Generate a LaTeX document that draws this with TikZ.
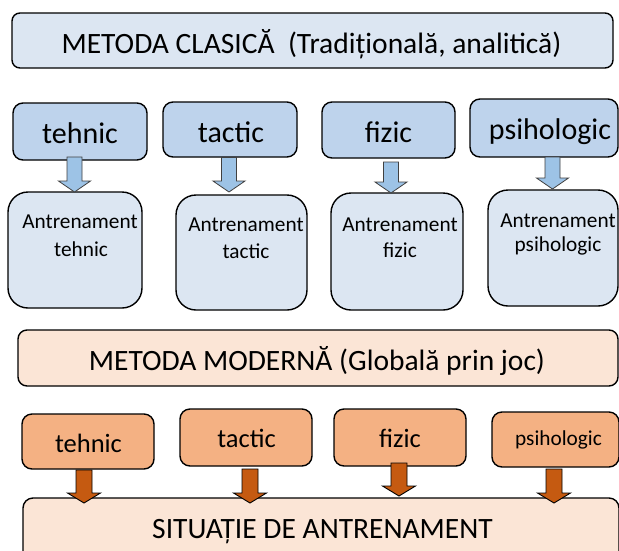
\documentclass[tikz,border=0pt]{standalone}
\usepackage{fontspec}
\setmainfont{Carlito}
\usetikzlibrary{calc}
\definecolor{topfill}{HTML}{DCE6F2}
\definecolor{bluebox}{HTML}{BED3EC}
\definecolor{bluearrow}{HTML}{9DC3E6}
\definecolor{peach}{HTML}{FBE5D6}
\definecolor{orangebox}{HTML}{F4B183}
\definecolor{orangearrow}{HTML}{C55A11}
\tikzset{
  box/.style={draw=black, line width=1.4pt, inner sep=0pt, outer sep=0pt},
  bigtext/.style={font=\fontsize{29.5}{34}\selectfont, inner sep=0pt, anchor=base},
  midtext/.style={font=\fontsize{30}{34}\selectfont, inner sep=0pt, anchor=base},
  smalltext/.style={font=\fontsize{21.3}{25}\selectfont, inner sep=0pt, anchor=base},
  otext/.style={font=\fontsize{26.5}{31}\selectfont, inner sep=0pt, anchor=base},
  barrow/.style={draw=black!75, line width=0.8pt, fill=bluearrow,
    to path={let \p1=(\tikztostart), \p2=(\tikztotarget) in
      (\x1-7.5pt,\y1) -- (\x1+7.5pt,\y1) -- (\x1+7.5pt,\y2+11pt) -- (\x1+16pt,\y2+11pt)
      -- (\x1,\y2) -- (\x1-16pt,\y2+11pt) -- (\x1-7.5pt,\y2+11pt) -- cycle}},
  oarrow/.style={draw=black, line width=0.9pt, fill=orangearrow,
    to path={let \p1=(\tikztostart), \p2=(\tikztotarget) in
      (\x1-8pt,\y1) -- (\x1+8pt,\y1) -- (\x1+8pt,\y2+10pt) -- (\x1+16.5pt,\y2+10pt)
      -- (\x1,\y2) -- (\x1-16.5pt,\y2+10pt) -- (\x1-8pt,\y2+10pt) -- cycle}},
}
\begin{document}
\begin{tikzpicture}[x=1pt,y=-1pt]
\clip (0,0) rectangle (619,550);
\fill[white] (0,0) rectangle (619,550);
% top title
\node[box, fill=topfill, rounded corners=8pt, minimum width=601pt, minimum height=55pt] (clasic) at (312.5,40.5) {};
\node[bigtext] (clasict) at (311.5,53) {METODA CLASICĂ\ \ (Tradițională, analitică)};
% blue boxes
\node[box, fill=bluebox, rounded corners=10pt, minimum width=134pt, minimum height=57pt] (bt1) at (80,131.5) {};
\node[box, fill=bluebox, rounded corners=10pt, minimum width=134pt, minimum height=55pt] (bt2) at (230,129.5) {};
\node[box, fill=bluebox, rounded corners=10pt, minimum width=133pt, minimum height=56pt] (bt3) at (388.5,130) {};
\node[box, fill=bluebox, rounded corners=10pt, minimum width=148pt, minimum height=58pt] (bt4) at (544,128) {};
\node[midtext] (bt1t) at (80,143) {tehnic};
\node[midtext] (bt2t) at (231,142) {tactic};
\node[midtext] (bt3t) at (388.5,142) {fizic};
\node[midtext] (bt4t) at (550,139) {psihologic};
% antrenament boxes
\node[box, fill=topfill, rounded corners=20pt, minimum width=134pt, minimum height=116pt] (at1) at (75,250) {};
\node[box, fill=topfill, rounded corners=20pt, minimum width=131pt, minimum height=115pt] (at2) at (241.5,252.5) {};
\node[box, fill=topfill, rounded corners=20pt, minimum width=132pt, minimum height=117pt] (at3) at (397,251.5) {};
\node[box, fill=topfill, rounded corners=20pt, minimum width=130pt, minimum height=116pt] (at4) at (553,248) {};
\node[smalltext] (at1a) at (80,228) {Antrenament};
\node[smalltext] (at1b) at (81,256) {tehnic};
\node[smalltext] (at2a) at (246,231) {Antrenament};
\node[smalltext] (at2b) at (246,258) {tactic};
\node[smalltext] (at3a) at (400,231) {Antrenament};
\node[smalltext] (at3b) at (400,257) {fizic};
\node[smalltext] (at4a) at (558,227) {Antrenament};
\node[smalltext] (at4b) at (558,251) {psihologic};
% blue arrows
\draw[barrow] ([xshift=-5.5pt,yshift=3pt]bt1.south) to ([yshift=0pt]at1.north);
\draw[barrow] ([xshift=-1pt,yshift=-0.5pt]bt2.south) to ([yshift=3pt]at2.north);
\draw[barrow] ([xshift=2.5pt,yshift=-4pt]bt3.south) to ([yshift=0pt]at3.north);
\draw[barrow] ([xshift=8.5pt]bt4.south) to ([yshift=1pt]at4.north);
% modern title
\node[box, fill=peach, rounded corners=9pt, minimum width=600pt, minimum height=56pt] (modern) at (318,358) {};
\node[bigtext] (modernt) at (317,370) {METODA MODERNĂ (Globală prin joc)};
% orange boxes
\node[box, fill=orangebox, rounded corners=10pt, minimum width=132pt, minimum height=55pt] (ot1) at (88,441.5) {};
\node[box, fill=orangebox, rounded corners=10pt, minimum width=132pt, minimum height=57pt] (ot2) at (246,437.5) {};
\node[box, fill=orangebox, rounded corners=10pt, minimum width=132pt, minimum height=57pt] (ot3) at (400,437.5) {};
\node[box, fill=orangebox, rounded corners=10pt, minimum width=127pt, minimum height=55pt] (ot4) at (555.5,439.5) {};
\node[otext] (ot1t) at (88.5,452) {tehnic};
\node[otext] (ot2t) at (246.5,447) {tactic};
\node[otext] (ot3t) at (400,447) {fizic};
\node[smalltext] (ot4t) at (558.5,445) {psihologic};
% bottom box
\node[box, fill=peach, rounded corners=10pt, minimum width=596pt, minimum height=70pt] (sit) at (321,533) {};
\node[bigtext] (sitt) at (322.5,538) {SITUAȚIE DE ANTRENAMENT};
% orange arrows
\draw[oarrow] ([xshift=-4pt,yshift=-1pt]ot1.south) to ([yshift=-5pt]sit.north);
\draw[oarrow] ([xshift=4pt,yshift=-3pt]ot2.south) to ([yshift=-5pt]sit.north);
\draw[oarrow] ([xshift=-1pt,yshift=3pt]ot3.south) to ([yshift=2pt]sit.north);
\draw[oarrow] ([xshift=-1.5pt,yshift=-2pt]ot4.south) to ([yshift=-5pt]sit.north);
\end{tikzpicture}
\end{document}
